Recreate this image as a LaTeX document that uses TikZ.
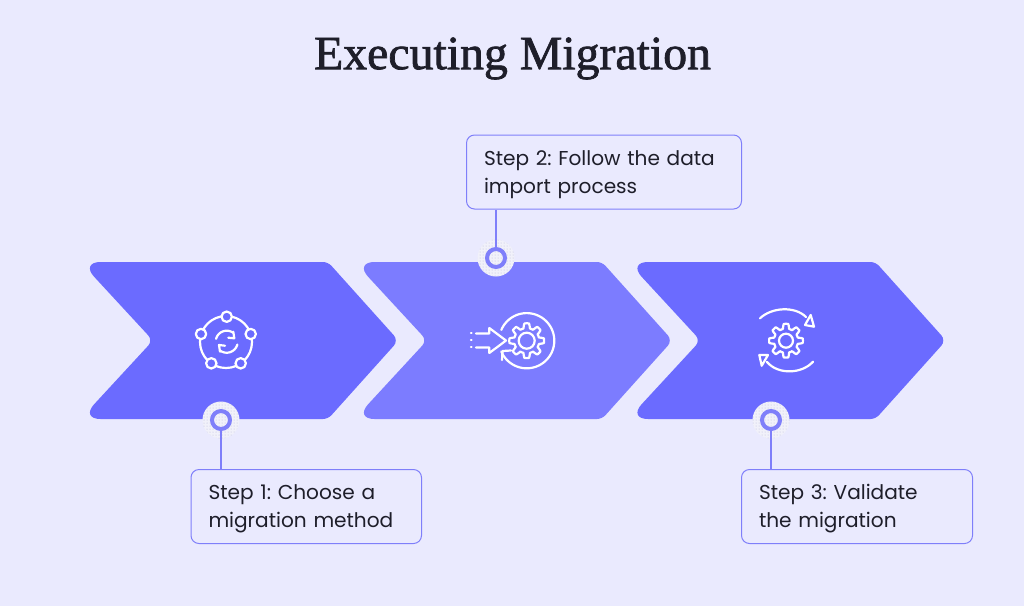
\documentclass[tikz,border=0pt]{standalone}
\usepackage{fontspec}
\setmainfont{Poppins}
\newfontfamily\titlefont[FakeBold=1.5]{Liberation Serif}
\usetikzlibrary{patterns}
\definecolor{bgc}{HTML}{EAEAFE}
\definecolor{chevA}{HTML}{6B6BFF}
\definecolor{chevB}{HTML}{7C7CFF}
\definecolor{edgec}{HTML}{7F7FFA}
\definecolor{inkc}{HTML}{1E1E2A}
\definecolor{haloc}{HTML}{F1F1FA}
\definecolor{dotc}{HTML}{B9B9DC}
\tikzset{
  stepbox/.style={draw=edgec,line width=1pt,rounded corners=8pt,fill=bgc,anchor=north west,
    align=left,text=inkc,font=\fontsize{20.1}{28}\selectfont\frenchspacing,inner xsep=17.5pt,inner ysep=0pt,
    minimum height=74pt,text depth=28.5pt},
  halo/.style={circle,minimum size=37pt,inner sep=0pt,fill=haloc},
  halodots/.style={circle,minimum size=37pt,inner sep=0pt,pattern=dots,pattern color=dotc},
  ring/.style={circle,draw=edgec,line width=4pt,minimum size=18pt,inner sep=0pt},
  link/.style={draw=edgec,line width=1.4pt},
  iconline/.style={draw=white,line width=2.2pt,line cap=round,line join=round},
}
\newcommand{\chevronat}[2]{%
  \fill[#2,shift={(#1,0)}]
    [rounded corners=20pt] (80.5,262)
    [rounded corners=5pt] -- (328,262)
    [rounded corners=7pt] -- (398.5,340.5)
    [rounded corners=5pt] -- (328,419)
    [rounded corners=20pt] -- (80.5,419)
    [rounded corners=7pt] -- (153,340.5)
    [rounded corners=20pt] -- cycle;}
\newcommand{\gearat}[4]{%
  \draw[iconline,shift={(#1,#2)},domain=0:360,samples=145] plot (\x:{#3+2.4*max(min(2.2*cos(8*\x),1),-1)}) -- cycle;
  \draw[iconline] (#1,#2) circle[radius=#4pt];}
\begin{document}
\begin{tikzpicture}[x=1pt,y=-1pt]
\useasboundingbox (0,0) rectangle (1024,606);
\fill[bgc] (0,0) rectangle (1024,606);
\node[text=inkc,font=\titlefont\fontsize{47.8}{50}\selectfont] (title) at (512.5,58.5) {Executing Migration};
\chevronat{0}{chevA}
\chevronat{274}{chevB}
\chevronat{547.5}{chevA}
% icon 1
\draw[iconline] (226,342) circle[radius=26pt];
\foreach \px/\py in {226.7/316.7,201/334,250.7/334,211.3/363.3,240.7/363.3}
  \draw[iconline,fill=chevA] (\px,\py) circle[radius=5.2pt];
\draw[iconline,shift={(226.7,341.7)},domain=195:305,samples=30] plot (\x:11);
\draw[iconline,shift={(226.7,341.7)},domain=15:125,samples=30] plot (\x:11);
\draw[iconline] (233.3,331.7) -- (234.3,338.3) -- (228.3,337.7);
\draw[iconline] (220,351.7) -- (219,345) -- (225,345.7);
% icon 2
\gearat{526.7}{340.7}{15}{8}
\draw[iconline,shift={(526.7,340.7)},domain=-157:157,samples=70] plot (\x:27.6);
\draw[iconline] (502,360) -- (502.5,351) -- (511,350.5);
\draw[iconline] (476,333.5) -- (489.3,333.5) -- (489.3,328) -- (506,340.5) -- (489.3,353) -- (489.3,347.5) -- (476,347.5);
\foreach \py in {333,340,347} \draw[iconline] (471,\py) -- (471.6,\py);
% icon 3
\gearat{786}{340.7}{14.5}{7}
\draw[iconline] (760,318.3) .. controls (772,307) and (795,306) .. (806,317);
\draw[iconline] (805,325) -- (814,326.7) -- (810.7,315) -- cycle;
\draw[iconline] (813,361.7) .. controls (802,374) and (778,375) .. (767,362);
\draw[iconline] (759.3,355) -- (768,355) -- (761.7,365.7) -- cycle;
% boxes
\node[stepbox,minimum width=230.5pt,text width=195.5pt] (box1) at (190.5,469) {Step 1: Choose a\\migration method};
\node[stepbox,minimum width=275pt,text width=240pt] (box2) at (466,134.5) {Step 2: Follow the data\\import process};
\node[stepbox,minimum width=231pt,text width=196pt] (box3) at (741,469) {Step 3: Validate\\the migration};
% markers
\node[halo] (h1) at (221,420) {}; \node[halodots] (d1) at (221,420) {};
\node[halo] (h2) at (496,258) {}; \node[halodots] (d2) at (496,258) {};
\node[halo] (h3) at (771,420) {}; \node[halodots] (d3) at (771,420) {};
\node[ring] (r1) at (221,420) {};
\node[ring] (r2) at (496,258) {};
\node[ring] (r3) at (771,420) {};
\draw[link] (r1.south) -- (r1.south |- box1.north);
\draw[link] (r2.north) -- (r2.north |- box2.south);
\draw[link] (r3.south) -- (r3.south |- box3.north);
\end{tikzpicture}
\end{document}
